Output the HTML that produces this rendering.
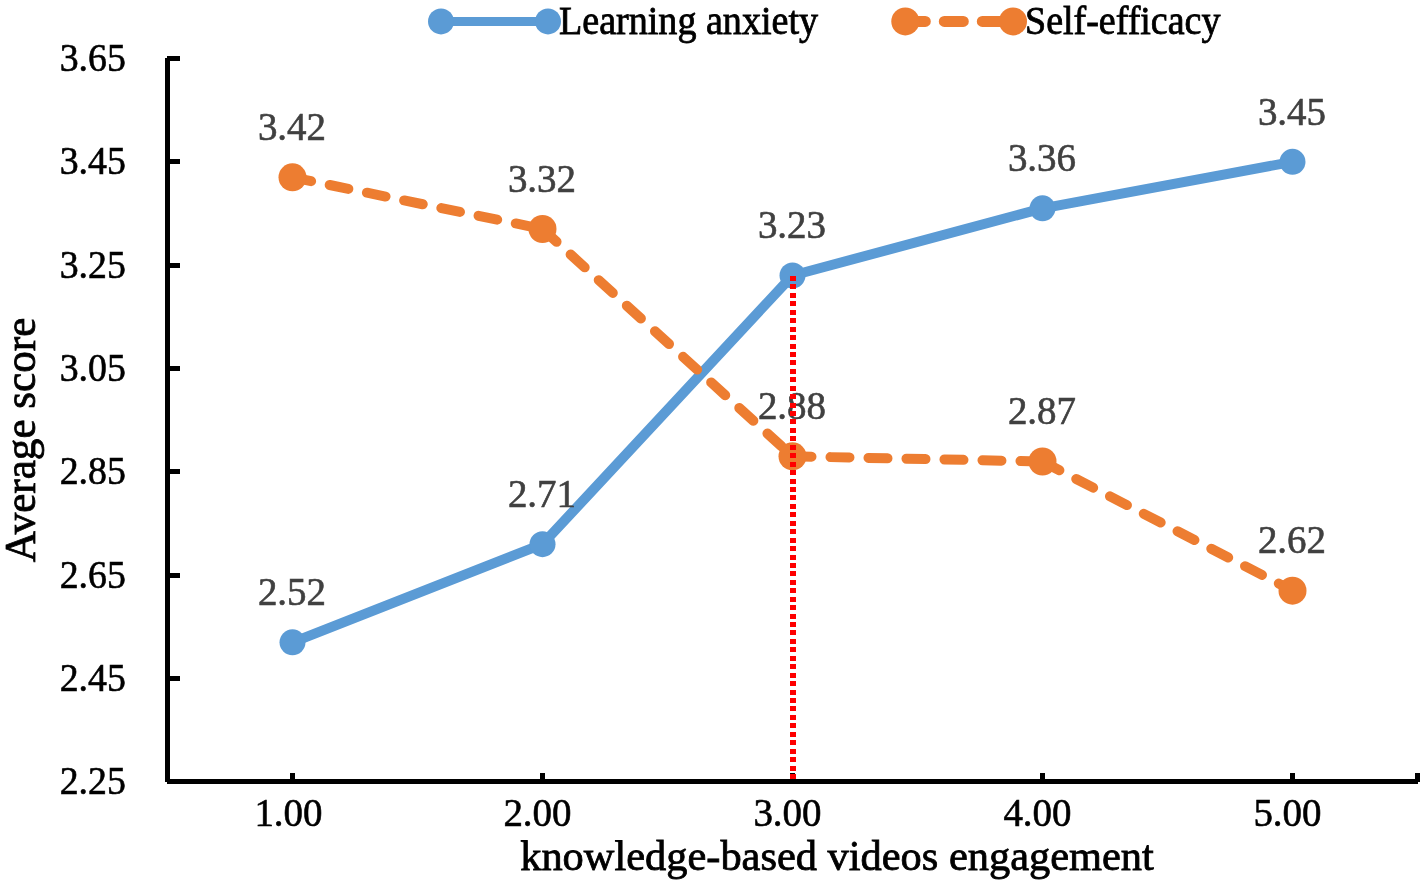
<!DOCTYPE html><html><head><meta charset="utf-8"><title>Chart</title><style>html,body{margin:0;padding:0;background:#fff;overflow:hidden}svg{display:block;will-change:transform}text{font-family:"Liberation Serif",serif}</style></head><body>
<svg width="1421" height="883" viewBox="0 0 1421 883">
<rect width="1421" height="883" fill="#fff"/>
<g fill="#000">
<rect x="165" y="58" width="5" height="724"/>
<rect x="167" y="779" width="1251" height="5"/>
<rect x="167" y="56" width="13" height="5"/>
<rect x="170" y="159" width="10" height="5"/>
<rect x="170" y="263" width="10" height="5"/>
<rect x="170" y="366" width="10" height="5"/>
<rect x="170" y="469" width="10" height="5"/>
<rect x="170" y="573" width="10" height="5"/>
<rect x="170" y="676" width="10" height="5"/>
<rect x="290.00" y="773" width="5" height="6"/>
<rect x="540.00" y="773" width="5" height="6"/>
<rect x="790.00" y="773" width="5" height="6"/>
<rect x="1040.00" y="773" width="5" height="6"/>
<rect x="1290.00" y="773" width="5" height="6"/>
<rect x="1415" y="773" width="5" height="9"/>
</g>
<text transform="translate(125.80,70.90) scale(0.945,1.015)" font-size="40" text-anchor="end" fill="#000" stroke="#000" stroke-width="0.6">3.65</text>
<text transform="translate(125.80,174.23) scale(0.945,1.015)" font-size="40" text-anchor="end" fill="#000" stroke="#000" stroke-width="0.6">3.45</text>
<text transform="translate(125.80,277.57) scale(0.945,1.015)" font-size="40" text-anchor="end" fill="#000" stroke="#000" stroke-width="0.6">3.25</text>
<text transform="translate(125.80,380.90) scale(0.945,1.015)" font-size="40" text-anchor="end" fill="#000" stroke="#000" stroke-width="0.6">3.05</text>
<text transform="translate(125.80,484.24) scale(0.945,1.015)" font-size="40" text-anchor="end" fill="#000" stroke="#000" stroke-width="0.6">2.85</text>
<text transform="translate(125.80,587.57) scale(0.945,1.015)" font-size="40" text-anchor="end" fill="#000" stroke="#000" stroke-width="0.6">2.65</text>
<text transform="translate(125.80,690.90) scale(0.945,1.015)" font-size="40" text-anchor="end" fill="#000" stroke="#000" stroke-width="0.6">2.45</text>
<text transform="translate(125.80,794.24) scale(0.945,1.015)" font-size="40" text-anchor="end" fill="#000" stroke="#000" stroke-width="0.6">2.25</text>
<text transform="translate(288.50,826.20) scale(0.975,1.015)" font-size="40" text-anchor="middle" fill="#000" stroke="#000" stroke-width="0.6">1.00</text>
<text transform="translate(537.50,826.20) scale(0.975,1.015)" font-size="40" text-anchor="middle" fill="#000" stroke="#000" stroke-width="0.6">2.00</text>
<text transform="translate(787.50,826.20) scale(0.975,1.015)" font-size="40" text-anchor="middle" fill="#000" stroke="#000" stroke-width="0.6">3.00</text>
<text transform="translate(1037.50,826.20) scale(0.975,1.015)" font-size="40" text-anchor="middle" fill="#000" stroke="#000" stroke-width="0.6">4.00</text>
<text transform="translate(1287.50,826.20) scale(0.975,1.015)" font-size="40" text-anchor="middle" fill="#000" stroke="#000" stroke-width="0.6">5.00</text>
<text transform="translate(837.00,869.90) scale(1.01,1)" font-size="42" text-anchor="middle" fill="#000" stroke="#000" stroke-width="0.8">knowledge-based videos engagement</text>
<text transform="translate(35.00,440.00) rotate(-90) scale(0.98,1)" font-size="44" text-anchor="middle" fill="#000" stroke="#000" stroke-width="0.8">Average score</text>
<line x1="292.50" y1="642.34" x2="542.50" y2="544.17" stroke="#5B9BD5" stroke-width="10" stroke-linecap="round"/>
<line x1="542.50" y1="544.17" x2="792.50" y2="275.50" stroke="#5B9BD5" stroke-width="10" stroke-linecap="round"/>
<line x1="792.50" y1="275.50" x2="1042.50" y2="208.33" stroke="#5B9BD5" stroke-width="10" stroke-linecap="round"/>
<line x1="1042.50" y1="208.33" x2="1292.50" y2="161.83" stroke="#5B9BD5" stroke-width="10" stroke-linecap="round"/>
<line x1="292.50" y1="177.33" x2="542.50" y2="229.00" stroke="#ED7D31" stroke-width="10" stroke-linecap="round" stroke-dasharray="19 19"/>
<line x1="542.50" y1="229.00" x2="792.50" y2="456.34" stroke="#ED7D31" stroke-width="10" stroke-linecap="round" stroke-dasharray="19 19"/>
<line x1="792.50" y1="456.34" x2="1042.50" y2="461.50" stroke="#ED7D31" stroke-width="10" stroke-linecap="round" stroke-dasharray="19 19"/>
<line x1="1042.50" y1="461.50" x2="1292.50" y2="590.67" stroke="#ED7D31" stroke-width="10" stroke-linecap="round" stroke-dasharray="19 19"/>
<circle cx="292.50" cy="642.34" r="13" fill="#5B9BD5"/>
<circle cx="542.50" cy="544.17" r="13" fill="#5B9BD5"/>
<circle cx="792.50" cy="275.50" r="13" fill="#5B9BD5"/>
<circle cx="1042.50" cy="208.33" r="13" fill="#5B9BD5"/>
<circle cx="1292.50" cy="161.83" r="13" fill="#5B9BD5"/>
<circle cx="292.50" cy="177.33" r="14" fill="#ED7D31"/>
<circle cx="542.50" cy="229.00" r="14" fill="#ED7D31"/>
<circle cx="792.50" cy="456.34" r="14" fill="#ED7D31"/>
<circle cx="1042.50" cy="461.50" r="14" fill="#ED7D31"/>
<circle cx="1292.50" cy="590.67" r="14" fill="#ED7D31"/>
<text transform="translate(292.00,605.04) scale(0.975,1.015)" font-size="40" text-anchor="middle" fill="#404040" stroke="#404040" stroke-width="0.6">2.52</text>
<text transform="translate(542.00,506.87) scale(0.975,1.015)" font-size="40" text-anchor="middle" fill="#404040" stroke="#404040" stroke-width="0.6">2.71</text>
<text transform="translate(792.00,238.20) scale(0.975,1.015)" font-size="40" text-anchor="middle" fill="#404040" stroke="#404040" stroke-width="0.6">3.23</text>
<text transform="translate(1042.00,171.03) scale(0.975,1.015)" font-size="40" text-anchor="middle" fill="#404040" stroke="#404040" stroke-width="0.6">3.36</text>
<text transform="translate(1292.00,124.53) scale(0.975,1.015)" font-size="40" text-anchor="middle" fill="#404040" stroke="#404040" stroke-width="0.6">3.45</text>
<text transform="translate(292.00,140.03) scale(0.975,1.015)" font-size="40" text-anchor="middle" fill="#404040" stroke="#404040" stroke-width="0.6">3.42</text>
<text transform="translate(542.00,191.70) scale(0.975,1.015)" font-size="40" text-anchor="middle" fill="#404040" stroke="#404040" stroke-width="0.6">3.32</text>
<text transform="translate(792.00,419.04) scale(0.975,1.015)" font-size="40" text-anchor="middle" fill="#404040" stroke="#404040" stroke-width="0.6">2.88</text>
<text transform="translate(1042.00,424.20) scale(0.975,1.015)" font-size="40" text-anchor="middle" fill="#404040" stroke="#404040" stroke-width="0.6">2.87</text>
<text transform="translate(1292.00,553.37) scale(0.975,1.015)" font-size="40" text-anchor="middle" fill="#404040" stroke="#404040" stroke-width="0.6">2.62</text>
<line x1="441" y1="21.4" x2="548" y2="21.4" stroke="#5B9BD5" stroke-width="9"/>
<circle cx="441" cy="21.4" r="13" fill="#5B9BD5"/><circle cx="548" cy="21.4" r="13" fill="#5B9BD5"/>
<text transform="translate(559.00,33.80) scale(0.952,1)" font-size="40" text-anchor="start" fill="#000" stroke="#000" stroke-width="0.8">Learning anxiety</text>
<line x1="906.3" y1="21.4" x2="1013" y2="21.4" stroke="#ED7D31" stroke-width="11" stroke-linecap="round" stroke-dasharray="19 19"/>
<circle cx="905.3" cy="21.4" r="14" fill="#ED7D31"/><circle cx="1013" cy="21.4" r="14" fill="#ED7D31"/>
<text transform="translate(1025.00,33.80) scale(0.95,1)" font-size="40" text-anchor="start" fill="#000" stroke="#000" stroke-width="0.8">Self-efficacy</text>
<g fill="#FF0000">
<rect x="790" y="276" width="6" height="5"/>
<rect x="790" y="284" width="6" height="5"/>
<rect x="790" y="293" width="6" height="5"/>
<rect x="790" y="301" width="6" height="5"/>
<rect x="790" y="310" width="6" height="5"/>
<rect x="790" y="318" width="6" height="5"/>
<rect x="790" y="327" width="6" height="5"/>
<rect x="790" y="335" width="6" height="5"/>
<rect x="790" y="344" width="6" height="5"/>
<rect x="790" y="352" width="6" height="5"/>
<rect x="790" y="360" width="6" height="5"/>
<rect x="790" y="369" width="6" height="5"/>
<rect x="790" y="377" width="6" height="5"/>
<rect x="790" y="386" width="6" height="5"/>
<rect x="790" y="394" width="6" height="5"/>
<rect x="790" y="403" width="6" height="5"/>
<rect x="790" y="411" width="6" height="5"/>
<rect x="790" y="419" width="6" height="5"/>
<rect x="790" y="428" width="6" height="5"/>
<rect x="790" y="436" width="6" height="5"/>
<rect x="790" y="445" width="6" height="5"/>
<rect x="790" y="453" width="6" height="5"/>
<rect x="790" y="462" width="6" height="5"/>
<rect x="790" y="470" width="6" height="5"/>
<rect x="790" y="479" width="6" height="5"/>
<rect x="790" y="487" width="6" height="5"/>
<rect x="790" y="495" width="6" height="5"/>
<rect x="790" y="504" width="6" height="5"/>
<rect x="790" y="512" width="6" height="5"/>
<rect x="790" y="521" width="6" height="5"/>
<rect x="790" y="529" width="6" height="5"/>
<rect x="790" y="538" width="6" height="5"/>
<rect x="790" y="546" width="6" height="5"/>
<rect x="790" y="555" width="6" height="5"/>
<rect x="790" y="563" width="6" height="5"/>
<rect x="790" y="571" width="6" height="5"/>
<rect x="790" y="580" width="6" height="5"/>
<rect x="790" y="588" width="6" height="5"/>
<rect x="790" y="597" width="6" height="5"/>
<rect x="790" y="605" width="6" height="5"/>
<rect x="790" y="614" width="6" height="5"/>
<rect x="790" y="622" width="6" height="5"/>
<rect x="790" y="630" width="6" height="5"/>
<rect x="790" y="639" width="6" height="5"/>
<rect x="790" y="647" width="6" height="5"/>
<rect x="790" y="656" width="6" height="5"/>
<rect x="790" y="664" width="6" height="5"/>
<rect x="790" y="673" width="6" height="5"/>
<rect x="790" y="681" width="6" height="5"/>
<rect x="790" y="690" width="6" height="5"/>
<rect x="790" y="698" width="6" height="5"/>
<rect x="790" y="706" width="6" height="5"/>
<rect x="790" y="715" width="6" height="5"/>
<rect x="790" y="723" width="6" height="5"/>
<rect x="790" y="732" width="6" height="5"/>
<rect x="790" y="740" width="6" height="5"/>
<rect x="790" y="749" width="6" height="5"/>
<rect x="790" y="757" width="6" height="5"/>
<rect x="790" y="766" width="6" height="5"/>
<rect x="790" y="774" width="6" height="5"/>
</g>
</svg></body></html>
